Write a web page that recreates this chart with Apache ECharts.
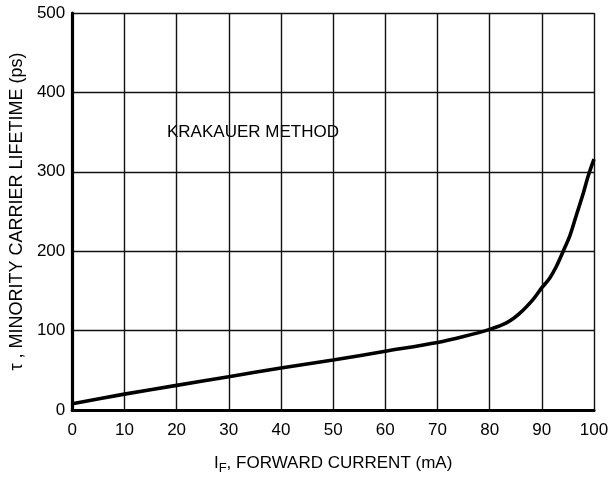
<!DOCTYPE html>
<html>
<head>
<meta charset="utf-8">
<script src="https://cdn.jsdelivr.net/npm/echarts@6/dist/echarts.min.js"></script>
<style>
html,body{margin:0;padding:0;background:#fff;}
#chart{width:616px;height:480px;}
</style>
</head>
<body>
<div id="chart"></div>
<script>
// Forward current (mA)
const forwardCurrent = [0, 10, 20, 30, 40, 50, 60, 70, 75, 80, 83.3, 85.8, 88.3, 90, 91.5, 92.8, 94.1, 95.4, 96.6, 97.9, 98.9, 100];
// Minority carrier lifetime (ps)
const lifetime = [8, 20, 31, 42, 53, 63, 74, 85, 92.5, 101.5, 110, 122, 139, 154, 166, 181, 200, 220, 245, 272, 295, 316];
const xTicks = [0, 10, 20, 30, 40, 50, 60, 70, 80, 90, 100];
const yTicks = [0, 100, 200, 300, 400, 500];
const annotation = 'KRAKAUER METHOD';

const FONT = '"Liberation Sans", Arial, Helvetica, sans-serif';
const chart = echarts.init(document.getElementById('chart'), null, {renderer: 'canvas'});

const points = forwardCurrent.map((x, i) => [x, lifetime[i]]);

chart.setOption({
  backgroundColor: '#ffffff',
  animation: false,
  grid: {left: 72, right: 22, top: 13, bottom: 67, containLabel: false},
  xAxis: {
    type: 'value',
    min: xTicks[0], max: xTicks[xTicks.length - 1], interval: 10,
    name: '{a|I}{s|F}{a|, FORWARD CURRENT (mA)}',
    nameLocation: 'middle',
    nameGap: 41,
    nameTextStyle: {
      fontFamily: FONT,
      color: '#000',
      rich: {
        a: {fontSize: 17, fontFamily: FONT, color: '#000'},
        s: {fontSize: 13, fontFamily: FONT, color: '#000', padding: [11, 0, 0, 0]}
      }
    },
    axisLine: {show: true, onZero: false, lineStyle: {color: '#000', width: 3.2}},
    axisTick: {show: false},
    axisLabel: {fontFamily: FONT, fontSize: 17, color: '#000', margin: 12},
    splitLine: {show: true, lineStyle: {color: '#111', width: 1.4}}
  },
  yAxis: {
    type: 'value',
    min: yTicks[0], max: yTicks[yTicks.length - 1], interval: 100,
    name: 'τ , MINORITY CARRIER LIFETIME (ps)',
    nameLocation: 'middle',
    nameGap: 42,
    nameTextStyle: {fontFamily: FONT, fontSize: 18, color: '#000'},
    axisLine: {show: true, onZero: false, lineStyle: {color: '#000', width: 3.2}},
    axisTick: {show: false},
    axisLabel: {fontFamily: FONT, fontSize: 17, color: '#000', margin: 7},
    splitLine: {show: true, lineStyle: {color: '#111', width: 1.4}}
  },
  graphic: [{
    type: 'group',
    z: 100,
    children: [
      {type: 'rect', left: 163, top: 114, shape: {width: 180, height: 38}, style: {fill: '#ffffff'}},
      {type: 'text', left: 167, top: 124, style: {text: annotation, font: '17px ' + FONT, fill: '#000'}}
    ]
  }],
  series: [{
    type: 'line',
    data: points,
    smooth: 0.3,
    showSymbol: false,
    lineStyle: {color: '#000', width: 3.6},
    z: 5
  }]
});
</script>
</body>
</html>
